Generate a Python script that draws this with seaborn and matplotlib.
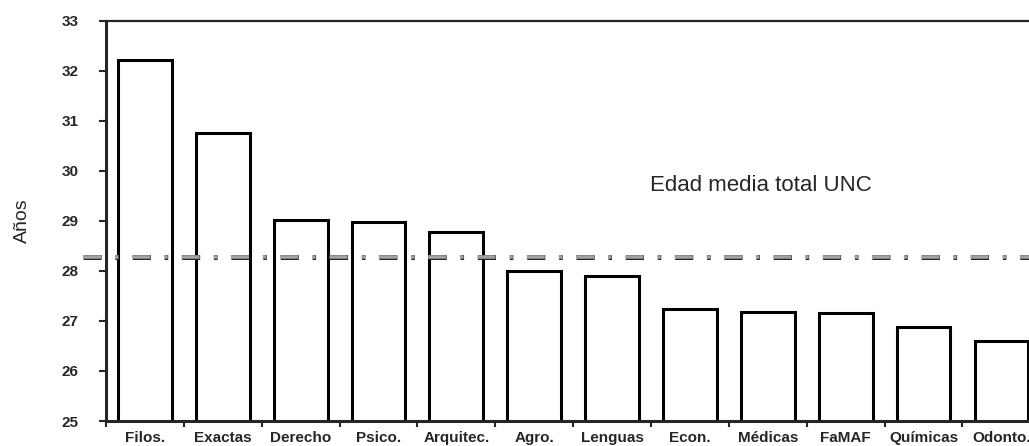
import seaborn as sns
import matplotlib.pyplot as plt
import matplotlib.patheffects as pe
import pandas as pd

# facultades y edad media (años)
facultades = ["Filos.", "Exactas", "Derecho", "Psico.", "Arquitec.", "Agro.",
              "Lenguas", "Econ.", "Médicas", "FaMAF", "Químicas", "Odonto."]
edades = [32.21, 30.76, 29.01, 28.98, 28.77, 28.00,
          27.89, 27.23, 27.17, 27.15, 26.87, 26.59]
media_total = 28.28
y_ticks = [25, 26, 27, 28, 29, 30, 31, 32, 33]

df = pd.DataFrame({"facultad": facultades, "edad": edades})

sns.set_style("ticks")
plt.rcParams['font.family'] = ['Liberation Sans', 'DejaVu Sans']
plt.rcParams['lines.scale_dashes'] = False

fig = plt.figure(figsize=(10.29, 4.46), dpi=100)
ax = fig.add_axes([0.103, 0.056, 0.908, 0.898])

sns.barplot(data=df, x="facultad", y="edad", ax=ax, width=0.69,
            color="white", edgecolor="black", linewidth=2.2, saturation=1)

ax.set_ylim(25, 33)
ax.set_xlim(-0.5, len(facultades) - 0.5)
ax.set_yticks(y_ticks)
ax.set_yticklabels([str(t) for t in y_ticks], fontsize=11, fontweight="bold")
ax.set_xticks(range(len(facultades)))
ax.set_xticklabels(facultades, fontsize=11, fontweight="bold")
ax.set_xticks([i - 0.5 for i in range(len(facultades) + 1)], minor=True)
ax.tick_params(axis="x", which="major", length=0, pad=7)
ax.tick_params(axis="x", which="minor", length=4, width=1.5, direction="out")
ax.tick_params(axis="y", length=5, width=1.5, pad=15)

ax.set_xlabel("")
ax.set_ylabel("Años", fontsize=14, labelpad=22)

for side in ["left", "bottom"]:
    ax.spines[side].set_linewidth(2.2)
ax.spines["top"].set_visible(True)
ax.spines["top"].set_linewidth(1.6)
ax.spines["right"].set_visible(False)

# línea de la media total
line, = ax.plot([-0.8, len(facultades)], [media_total, media_total],
                color="#a0a0a0", linewidth=2.6, clip_on=False, zorder=5)
line.set_dashes([13, 10, 2.5, 10])
line.set_path_effects([pe.Stroke(linewidth=3.6, foreground="#222222"), pe.Normal()])

ax.text(6.49, 29.71, "Edad media total UNC", fontsize=16, va="center", ha="left")

plt.savefig("out.png", dpi=100)
